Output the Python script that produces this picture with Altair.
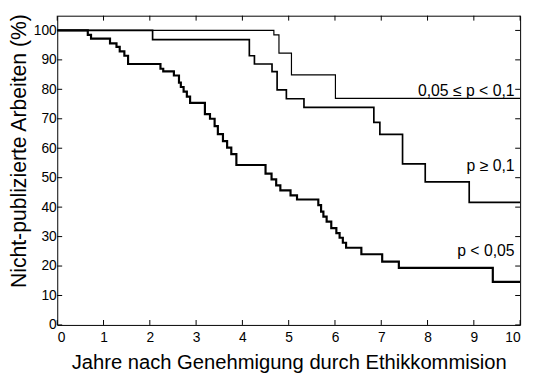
import altair as alt
import pandas as pd

groups = ["0,05 ≤ p < 0,1", "p ≥ 0,1", "p < 0,05"]

a_t = [0, 4.68, 4.79, 5.06, 6.01, 10]
a_v = [100, 98.5, 92.3, 84.9, 76.9, 76.9]

b_t = [0, 2.06, 4.15, 4.26, 4.64, 4.75, 4.95, 5.33, 6.84, 6.97, 7.46, 7.95, 8.90, 10]
b_v = [100, 96.9, 91.4, 88.6, 86.0, 79.8, 76.8, 73.9, 68.8, 64.7, 54.7, 48.6, 41.6, 41.6]

c_t = [0, 0.66, 0.73, 1.14, 1.28, 1.35, 1.45, 1.53, 2.23, 2.29, 2.52, 2.63, 2.67,
       2.73, 2.80, 2.87, 3.19, 3.30, 3.40, 3.47, 3.58, 3.67, 3.76, 3.87, 4.50,
       4.63, 4.73, 4.82, 5.04, 5.18, 5.64, 5.70, 5.75, 5.82, 5.92, 6.03, 6.10,
       6.17, 6.24, 6.57, 7.02, 7.38, 9.41, 10]
c_v = [100, 98.5, 97.2, 95.6, 94.4, 92.9, 91.4, 88.6, 87.0, 86.1, 84.7, 82.3, 80.8,
       79.2, 77.5, 75.4, 71.6, 70.0, 67.5, 64.8, 62.4, 60.2, 58.0, 54.3, 51.4,
       49.4, 47.4, 45.7, 44.0, 42.6, 40.7, 38.5, 36.8, 35.1, 32.9, 31.2, 29.6,
       27.9, 26.2, 24.0, 21.5, 19.4, 14.6, 14.6]

label_x = [9.88, 9.88, 9.88]
label_y = [77.6, 52.4, 23.3]

x_ticks = list(range(0, 11))
y_ticks = list(range(0, 101, 10))

rows = []
for g, ts, vs in zip(groups, [a_t, b_t, c_t], [a_v, b_v, c_v]):
    for t, v in zip(ts, vs):
        rows.append({"group": g, "t": t, "v": v})
df = pd.DataFrame(rows)

W, H = 470, 314
FONT = "Liberation Sans"
xscale = alt.Scale(domain=[0, 10], nice=False, zero=False)
yscale = alt.Scale(domain=[0, 105], nice=False, zero=False)

x_axis = alt.Axis(
    values=x_ticks, title="Jahre nach Genehmigung durch Ethikkommision",
    tickSize=0, labelPadding=6, domain=False, grid=False,
    labelFontSize=14, titleFontSize=20.5, titleY=44, titleBaseline="alphabetic")
y_axis = alt.Axis(
    values=y_ticks, title="Nicht-publizierte Arbeiten (%)",
    tickSize=0, labelPadding=1, domain=False, grid=False,
    labelFontSize=14, titleFontSize=21.5, titleX=-38, titleY=137,
    titleAngle=270, titleBaseline="middle")

lines = alt.Chart(df).mark_line(
    interpolate="step-after", color="black", strokeCap="butt", clip=True
).encode(
    x=alt.X("t:Q", scale=xscale, axis=x_axis),
    y=alt.Y("v:Q", scale=yscale, axis=y_axis),
    strokeWidth=alt.StrokeWidth("group:N", scale=alt.Scale(domain=groups, range=[1.2, 2.2, 3.2]), legend=None),
)

xt = pd.DataFrame({"t": x_ticks})
yt = pd.DataFrame({"v": y_ticks})

bottom_ticks = alt.Chart(xt).mark_rule(color="black", strokeWidth=1).encode(
    x=alt.X("t:Q", scale=xscale, axis=x_axis), y=alt.value(H), y2=alt.value(H - 5))
top_ticks = alt.Chart(xt).mark_rule(color="black", strokeWidth=1).encode(
    x=alt.X("t:Q", scale=xscale, axis=x_axis), y=alt.value(0), y2=alt.value(5))
left_ticks = alt.Chart(yt).mark_rule(color="black", strokeWidth=1).encode(
    y=alt.Y("v:Q", scale=yscale, axis=y_axis), x=alt.value(0), x2=alt.value(5))
right_ticks = alt.Chart(yt).mark_rule(color="black", strokeWidth=1).encode(
    y=alt.Y("v:Q", scale=yscale, axis=y_axis), x=alt.value(W - 5), x2=alt.value(W))

lab = pd.DataFrame({"label": groups, "x": label_x, "y": label_y})
labels = alt.Chart(lab).mark_text(
    align="right", baseline="alphabetic", fontSize=16, font=FONT, color="black"
).encode(
    x=alt.X("x:Q", scale=xscale, axis=x_axis),
    y=alt.Y("y:Q", scale=yscale, axis=y_axis),
    text="label:N",
)

chart = alt.layer(lines, bottom_ticks, top_ticks, left_ticks, right_ticks, labels).properties(
    width=W, height=H,
    autosize=alt.AutoSizeParams(type="none"),
    padding={"left": 50, "top": 5, "right": 8, "bottom": 47},
).configure_view(
    stroke="black", strokeWidth=1
).configure_axis(
    labelFont=FONT, titleFont=FONT, labelColor="black", titleColor="black",
    titleFontWeight="normal",
)

chart.save("out.html", embed_options={"renderer": "svg", "actions": False})
